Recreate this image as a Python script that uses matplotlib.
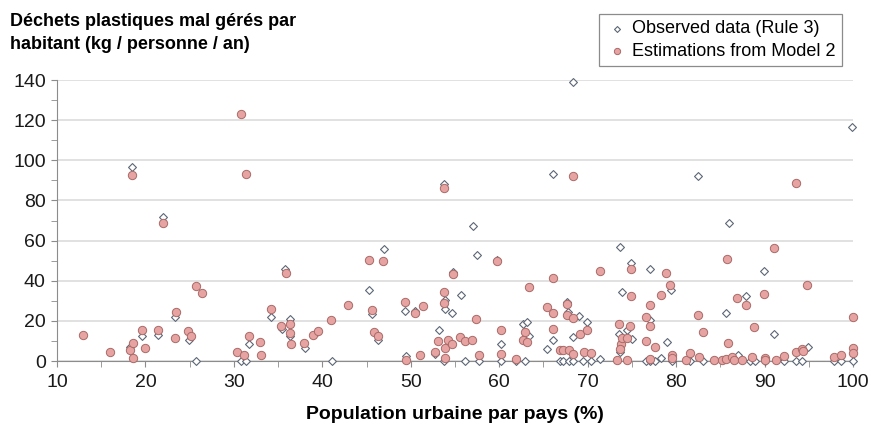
import numpy as np
import matplotlib.pyplot as plt

plt.rcParams['font.family'] = ['Liberation Sans', 'DejaVu Sans']

# observed data (Rule 3): urban population %, kg / person / year
obs_x = [18.3, 19.6, 21.4, 23.4, 24.9, 18.5, 21.95, 25.7, 30.8, 31.4, 31.7, 34.2, 35.4,
         35.8, 36.4, 36.4, 38.0, 39.4, 41.05, 45.3, 45.6, 46.3, 47.0, 49.4, 49.5, 50.5,
         53.2, 52.7, 53.8, 53.85, 53.9, 53.8, 54.7, 54.8, 55.7, 56.1, 57.0, 57.45, 57.7,
         59.7, 60.2, 60.2, 61.9, 62.7, 63.2, 63.4, 62.95, 65.4, 66.05, 66.1, 66.9, 67.2,
         67.7, 67.8, 67.9, 68.3, 68.35, 68.4, 69.05, 69.9, 69.5, 70.4, 71.45, 73.7, 73.9,
         73.6, 73.7, 74.4, 74.85, 75.0, 76.6, 77.1, 77.1, 77.1, 77.65, 78.3, 78.95, 79.4,
         79.5, 81.6, 82.5, 83.1, 85.7, 86.0, 86.95, 87.9, 88.4, 88.9, 89.95, 90.05, 91.1,
         92.2, 93.6, 94.25, 94.9, 97.8, 98.7, 99.9, 100]
obs_y = [7.1, 12.3, 13.1, 21.9, 10.5, 96.5, 71.6, 0, 0, 0, 8.3, 22.1, 16.1,
         46.0, 20.7, 12.3, 6.6, 14.5, 0, 35.4, 23.4, 10.5, 55.6, 24.9, 2.5, 25.1,
         15.6, 3.5, 88.2, 30.6, 25.7, 0, 23.9, 44.2, 32.7, 0, 67.4, 52.8, 0,
         50.5, 8.6, 0, 0, 18.3, 19.3, 12.5, 0, 5.8, 10.4, 93.0, 0, 0,
         29.2, 24.5, 0, 139, 12.1, 0, 22.2, 19.3, 0, 0, 1.0, 56.8, 34.6,
         13.5, 4.3, 15.4, 48.9, 11.0, 0, 45.7, 20.4, 0, 0, 1.3, 9.5, 35.4,
         0, 0, 92.2, 0, 23.7, 68.8, 3.0, 32.2, 0, 0, 44.7, 0, 13.7,
         0, 0, 0, 7.1, 0, 0, 116.7, 0]

# estimations from Model 2
est_x = [12.9, 16.0, 18.3, 18.6, 18.6, 18.5, 19.6, 19.95, 21.4, 21.95, 23.4, 23.5, 24.85,
         25.2, 25.7, 26.4, 30.8, 31.4, 30.4, 31.1, 31.75, 33.0, 33.1, 34.25, 35.35, 35.9,
         36.4, 36.4, 36.5, 37.95, 38.9, 39.5, 41.0, 42.9, 45.3, 46.9, 45.6, 45.8, 46.3,
         49.3, 50.5, 51.4, 49.5, 51.0, 52.7, 53.1, 53.8, 53.75, 53.8, 53.85, 53.85, 54.25,
         54.7, 54.8, 55.6, 56.1, 56.9, 57.4, 57.7, 59.7, 60.2, 60.2, 61.85, 62.9, 62.65,
         63.2, 63.35, 65.4, 66.05, 66.1, 66.1, 66.9, 67.2, 67.9, 67.7, 67.7, 68.3, 68.3,
         68.4, 69.1, 69.9, 69.55, 70.4, 71.4, 73.5, 73.8, 73.7, 73.3, 74.5, 73.9, 74.4,
         74.8, 74.9, 74.85, 76.6, 76.6, 77.1, 77.1, 77.65, 77.1, 78.3, 78.85, 79.35, 79.5,
         79.5, 81.1, 81.6, 82.45, 82.6, 83.1, 84.3, 85.2, 85.6, 85.8, 85.9, 86.3, 86.5,
         86.9, 87.9, 87.4, 88.6, 88.8, 89.9, 90.05, 90.1, 91.1, 91.3, 92.2, 93.6, 93.6,
         94.2, 94.4, 94.8, 97.8, 98.7, 99.95, 99.95, 99.95]
est_y = [12.8, 4.3, 5.3, 9.1, 1.7, 92.7, 15.6, 6.3, 15.3, 68.9, 11.5, 24.6, 15.0,
         12.7, 37.2, 33.7, 123.2, 93.3, 4.5, 3.0, 12.4, 9.3, 3.2, 25.8, 17.6, 43.9,
         18.2, 14.0, 8.3, 9.2, 13.1, 15.1, 20.3, 28.1, 50.5, 49.7, 25.6, 14.4, 12.5,
         29.6, 23.9, 27.2, 0.6, 2.9, 4.5, 9.9, 86.0, 34.3, 29.1, 6.5, 1.5, 10.5,
         8.3, 43.5, 11.8, 10.0, 10.5, 20.9, 2.9, 50.0, 15.3, 3.6, 0.8, 14.6, 10.3,
         9.5, 37.1, 26.7, 41.4, 23.8, 16.1, 5.3, 5.3, 5.3, 28.3, 22.8, 92.0, 21.2,
         3.7, 13.4, 15.4, 4.5, 4.0, 44.6, 18.2, 8.3, 6.0, 0.7, 0.7, 11.4, 11.4,
         17.3, 32.6, 45.7, 21.9, 10.0, 27.7, 17.3, 7.2, 1.0, 32.8, 44.0, 38.1, 3.0,
         1.3, 0.4, 4.0, 23.0, 2.1, 14.4, 0.5, 0.3, 0.8, 50.6, 9.2, 2.1, 0.4,
         31.6, 28.0, 0.3, 2.2, 17.0, 33.2, 1.7, 0.5, 56.5, 0.6, 2.6, 4.5, 88.5,
         6.1, 5.0, 38.0, 2.1, 2.8, 21.9, 6.5, 4.1]

fig = plt.figure(figsize=(8.71, 4.29), dpi=100)
ax = fig.add_axes([0.0654, 0.1585, 0.9139, 0.655])

ax.scatter(obs_x, obs_y, marker='D', s=16, facecolor='white', edgecolor='#5b6675',
           linewidth=0.8, clip_on=False, zorder=3, label='Observed data (Rule 3)')
ax.scatter(est_x, est_y, marker='o', s=36, facecolor='#e6a3a1', edgecolor='#a86a68',
           linewidth=0.7, clip_on=False, zorder=4, label='Estimations from Model 2')

ax.set_xlim(10, 100)
ax.set_ylim(0, 140)
ax.set_xticks(np.arange(10, 101, 10))
ax.set_xticks(np.arange(15, 100, 10), minor=True)
ax.set_yticks(np.arange(0, 141, 20))
ax.set_yticks(np.arange(10, 140, 20), minor=True)
ax.yaxis.grid(True, color='#dcdcdc', linewidth=1.2)
ax.set_axisbelow(True)

for s in ['top', 'right']:
    ax.spines[s].set_visible(False)
for s in ['left', 'bottom']:
    ax.spines[s].set_color('#8c8c8c')
ax.tick_params(which='both', direction='out', color='#8c8c8c', labelsize=14,
               labelcolor='#1a1a1a', length=4)
ax.tick_params(axis='x', pad=5)
ax.tick_params(axis='y', pad=4)

ax.set_xlabel('Population urbaine par pays (%)', fontsize=14, fontweight='bold',
              labelpad=11)
fig.text(0.012, 0.97, 'Déchets plastiques mal gérés par\nhabitant (kg / personne / an)',
         fontsize=13, fontweight='bold', va='top', ha='left', linespacing=1.45)

leg = ax.legend(loc='upper right', bbox_to_anchor=(0.977, 0.988),
                bbox_transform=fig.transFigure, fontsize=13, frameon=True,
                fancybox=False, edgecolor='#6e6e6e', handletextpad=0.2,
                borderpad=0.35, labelspacing=0.3, markerscale=0.75, handlelength=1.3)
leg.get_frame().set_linewidth(0.9)

fig.savefig('out.png', dpi=100)
